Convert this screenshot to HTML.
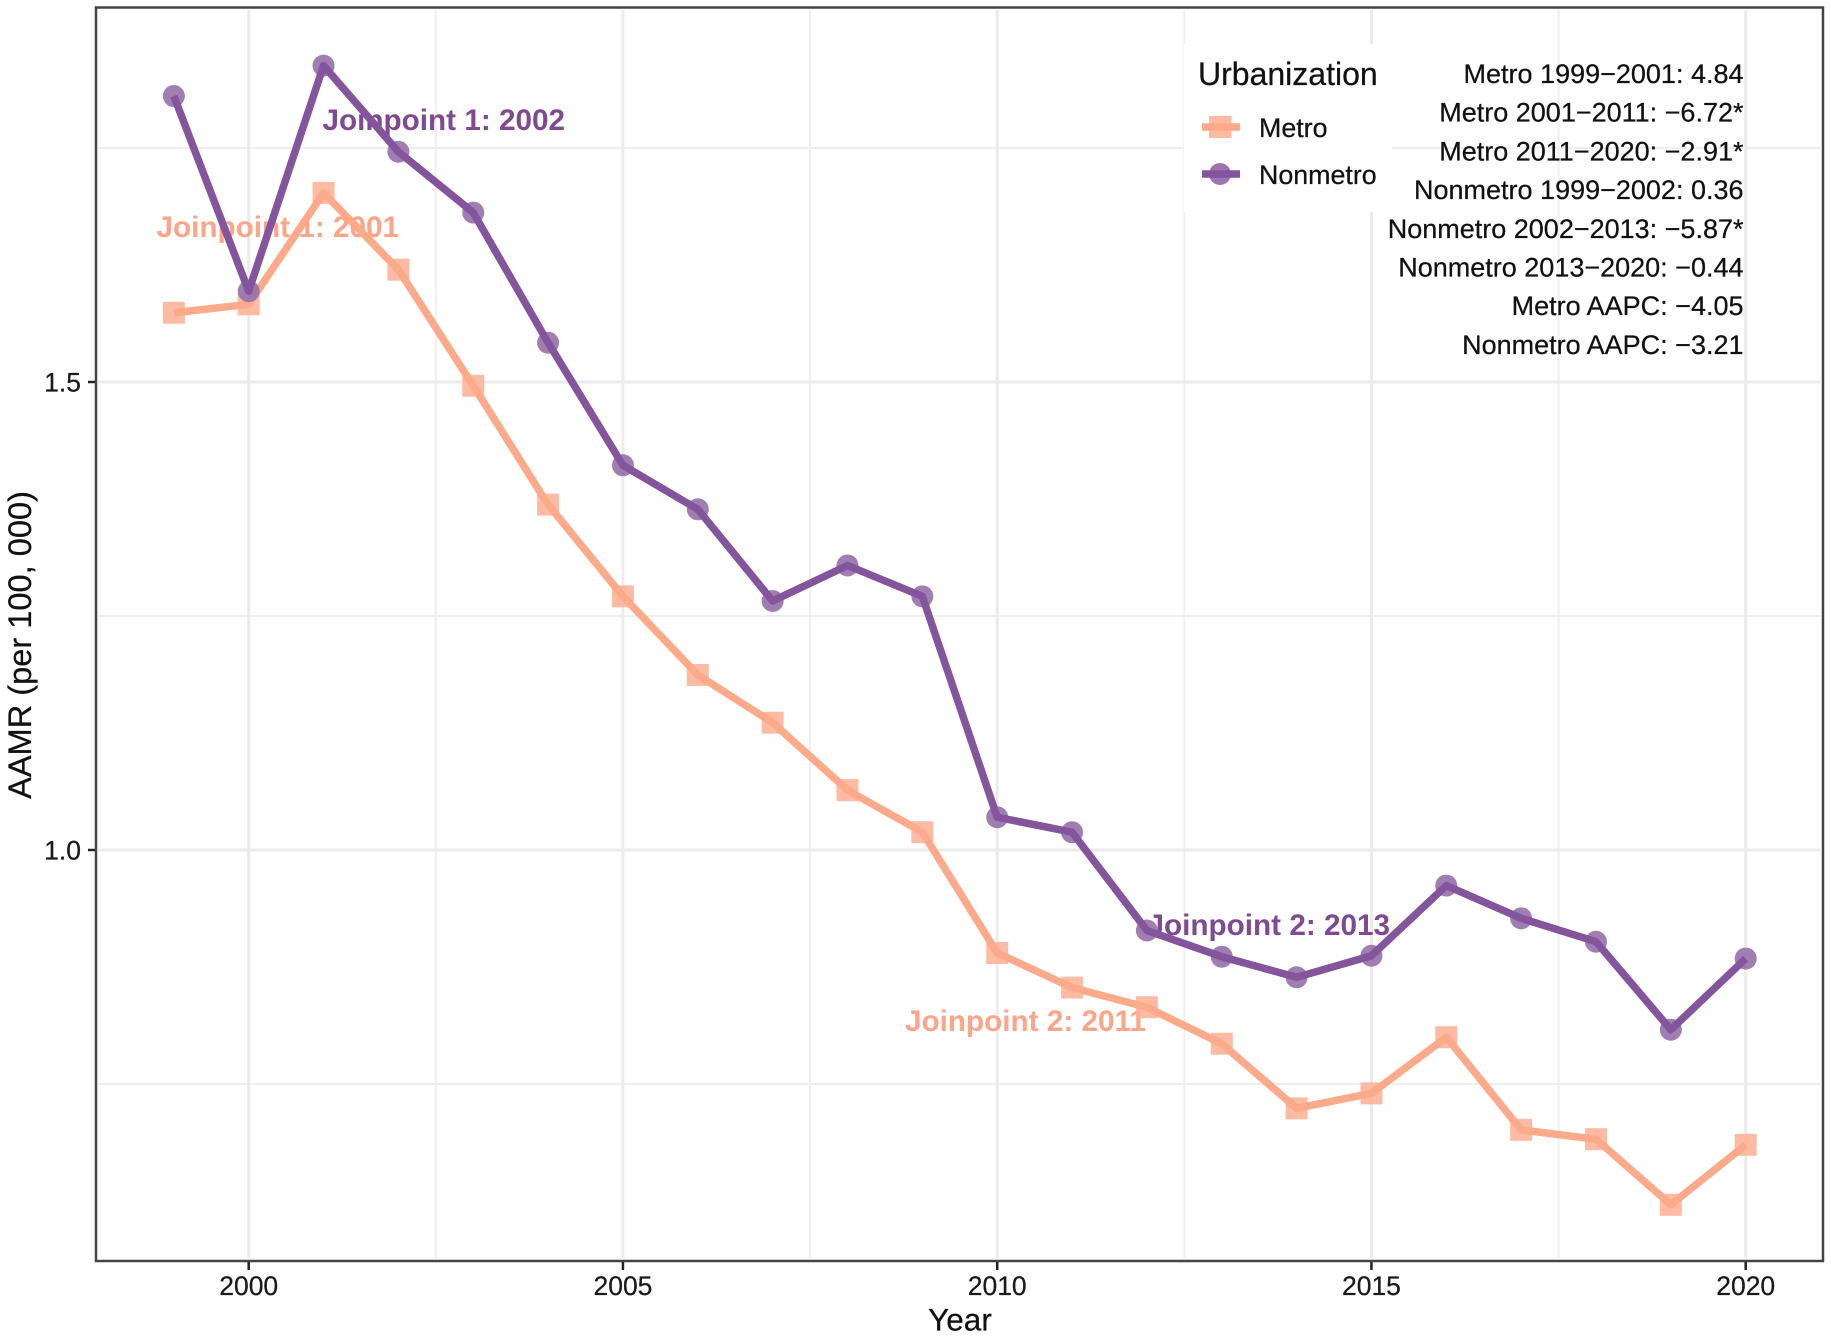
<!DOCTYPE html>
<html lang="en">
<head>
<meta charset="utf-8">
<title>AAMR by urbanization</title>
<style>
html,body{margin:0;padding:0;background:#fff;}
svg{display:block;}
text{font-family:"Liberation Sans",Arial,sans-serif;}
</style>
</head>
<body>
<svg id="chart" xmlns="http://www.w3.org/2000/svg" width="1831" height="1337" viewBox="0 0 1831 1337">
  <rect x="0" y="0" width="1831" height="1337" fill="#ffffff"/>
  <g id="grid"></g>
  <g id="joinpoints" font-weight="bold" font-size="29.7">
    <text x="156.5" y="237" fill="#fca588">Joinpoint 1: 2001</text>
    <text x="322.5" y="130" fill="#7f4a92">Joinpoint 1: 2002</text>
    <text x="905" y="1031" fill="#fca588">Joinpoint 2: 2011</text>
    <text x="1147.5" y="935" fill="#7f4a92">Joinpoint 2: 2013</text>
  </g>
  <g id="series"></g>
  <rect x="96" y="7.5" width="1727" height="1253.5" fill="none" stroke="#444444" stroke-width="2.5"/>
  <g id="axes" font-size="26.5" fill="#1a1a1a" stroke="#1a1a1a" stroke-width="0.25"></g>
  <text x="960" y="1330.5" text-anchor="middle" font-size="31.5" fill="#111111" stroke="#111111" stroke-width="0.25">Year</text>
  <text transform="translate(31,645) rotate(-90)" text-anchor="middle" font-size="32.6" fill="#111111" stroke="#111111" stroke-width="0.25">AAMR (per 100, 000)</text>
  <g>
    <rect x="1184" y="44" width="208" height="168" fill="#ffffff"/>
    <text x="1198" y="85" font-size="32" fill="#111111" stroke="#111111" stroke-width="0.25">Urbanization</text>
    <g>
      <rect x="1209" y="116" width="22.5" height="22" fill="#fdbaa1"/>
      <line x1="1202" y1="127" x2="1240" y2="127" stroke="#fdaa8a" stroke-width="7.5"/>
      <text x="1259" y="137" font-size="26.8" fill="#111111" stroke="#111111" stroke-width="0.25">Metro</text>
    </g>
    <g>
      <circle cx="1220" cy="174" r="11" fill="#9c74b0"/>
      <line x1="1202" y1="174" x2="1240" y2="174" stroke="#84549c" stroke-width="7.5"/>
      <text x="1259" y="184" font-size="26.8" fill="#111111" stroke="#111111" stroke-width="0.25">Nonmetro</text>
    </g>
  </g>
  <g font-size="27" fill="#111111" stroke="#111111" stroke-width="0.25" text-anchor="end">
    <text x="1743.5" y="83">Metro 1999−2001: 4.84</text>
    <text x="1743.5" y="121.5">Metro 2001−2011: −6.72*</text>
    <text x="1743.5" y="160.5">Metro 2011−2020: −2.91*</text>
    <text x="1743.5" y="199">Nonmetro 1999−2002: 0.36</text>
    <text x="1743.5" y="238">Nonmetro 2002−2013: −5.87*</text>
    <text x="1743.5" y="276.5">Nonmetro 2013−2020: −0.44</text>
    <text x="1743.5" y="315">Metro AAPC: −4.05</text>
    <text x="1743.5" y="354">Nonmetro AAPC: −3.21</text>
  </g>
</svg>
<script>
const years = [1999,2000,2001,2002,2003,2004,2005,2006,2007,2008,2009,2010,2011,2012,2013,2014,2015,2016,2017,2018,2019,2020];
const metroValues = [1.574,1.583,1.702,1.620,1.496,1.369,1.271,1.187,1.136,1.064,1.019,0.890,0.853,0.832,0.793,0.724,0.740,0.800,0.701,0.691,0.621,0.685];
const nonmetroValues = [1.8055,1.597,1.838,1.746,1.681,1.542,1.411,1.364,1.266,1.304,1.271,1.035,1.019,0.914,0.886,0.864,0.887,0.962,0.927,0.902,0.808,0.884];
const xMajorTicks = [2000,2005,2010,2015,2020];
const xMinorTicks = [2002.5,2007.5,2012.5,2017.5];
const yMajorTicks = [1.0,1.5];
const yMinorTicks = [0.75,1.25,1.75];

const SVG_NS = 'http://www.w3.org/2000/svg';
function xScale(year){ return 248.7 + (year - 2000) * 74.85; }
function yScale(value){ return 850 - (value - 1) * 936; }
function make(tag, attrs, parent){
  const el = document.createElementNS(SVG_NS, tag);
  for (const k in attrs) el.setAttribute(k, attrs[k]);
  parent.appendChild(el);
  return el;
}
const gridGroup = document.getElementById('grid');
const axesGroup = document.getElementById('axes');
const seriesGroup = document.getElementById('series');

yMinorTicks.forEach(function(v){
  const l = make('line', {x1:98, x2:1820, y1:yScale(v), y2:yScale(v), stroke:'#efefef', 'stroke-width':2}, gridGroup);
  
  
});
xMinorTicks.forEach(function(v){
  const l = make('line', {x1:xScale(v), x2:xScale(v), y1:10, y2:1258, stroke:'#efefef', 'stroke-width':2}, gridGroup);
  
  
});
yMajorTicks.forEach(function(v){
  const l = make('line', {x1:98, x2:1820, y1:yScale(v), y2:yScale(v), stroke:'#ebebeb', 'stroke-width':3}, gridGroup);
  
  
  const t = make('line', {x1:88, x2:95, y1:yScale(v), y2:yScale(v), stroke:'#222222', 'stroke-width':2.5}, axesGroup);
  
  
  const lab = make('text', {x:81, y:yScale(v) + 9.5, 'text-anchor':'end'}, axesGroup);
  
  
  lab.textContent = v.toFixed(1);
});
xMajorTicks.forEach(function(v){
  const l = make('line', {x1:xScale(v), x2:xScale(v), y1:10, y2:1258, stroke:'#ebebeb', 'stroke-width':3}, gridGroup);
  
  
  const t = make('line', {x1:xScale(v), x2:xScale(v), y1:1262, y2:1270, stroke:'#222222', 'stroke-width':2.5}, axesGroup);
  
  
  const lab = make('text', {x:xScale(v), y:1295, 'text-anchor':'middle'}, axesGroup);
  
  
  lab.textContent = String(v);
});

function pointsAttr(values){
  return values.map(function(v, i){ return xScale(years[i]) + ',' + yScale(v); }).join(' ');
}

// Metro series
const metroGroup = make('g', {}, seriesGroup);


metroValues.forEach(function(v, i){
  const m = make('rect', {x:xScale(years[i]) - 11, y:yScale(v) - 11, width:22, height:22, fill:'#fdb296', 'fill-opacity':0.88}, metroGroup);
  
  
});
const metroLine = make('polyline', {points:pointsAttr(metroValues), fill:'none', stroke:'#fdaa8a', 'stroke-width':7.5, 'stroke-linejoin':'round'}, metroGroup);



// Nonmetro series
const nonmetroGroup = make('g', {}, seriesGroup);


nonmetroValues.forEach(function(v, i){
  const m = make('circle', {cx:xScale(years[i]), cy:yScale(v), r:11, fill:'#9670aa', 'fill-opacity':0.9}, nonmetroGroup);
  
  
});
const nonmetroLine = make('polyline', {points:pointsAttr(nonmetroValues), fill:'none', stroke:'#84549c', 'stroke-width':7.5, 'stroke-linejoin':'round'}, nonmetroGroup);


</script>
</body>
</html>
